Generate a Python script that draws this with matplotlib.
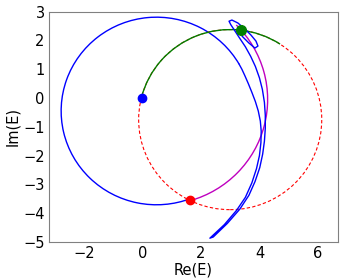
import matplotlib
matplotlib.use("Agg")
import matplotlib.pyplot as plt
from matplotlib.patches import Arc, Circle

# circles / arcs (centre x, centre y, radius)
blue_circle = (0.48, -0.45, 3.26)
blue_arc_angles = (30, 291)
red_circle = (3.0, -0.75, 3.13)
green_arc_angles = (57, 166)
magenta_circle = (0.62, -0.05, 3.66)
magenta_arc_angles = (-73.8, 45)

# rest of the blue trajectory: right side, spike, back up and the small loop
blue_x = [3.303, 3.40, 3.50, 3.62, 3.74, 3.86, 3.96, 4.03, 4.06, 4.05, 4.00, 3.90, 3.74, 3.52,
          3.22, 2.80, 2.305,
          2.42, 2.90, 3.33, 3.64, 3.85, 4.01, 4.11, 4.17, 4.20, 4.20, 4.17, 4.10, 4.00, 3.86,
          3.70, 3.52, 3.33, 3.15, 3.02, 2.96,
          3.058, 3.264, 3.503, 3.709, 3.880, 3.949, 3.846, 3.640, 3.435, 3.264]
blue_y = [1.18, 1.00, 0.78, 0.50, 0.20, -0.12, -0.45, -0.80, -1.15, -1.55, -2.00, -2.45, -2.95, -3.45,
          -3.90, -4.40, -4.871,
          -4.83, -4.36, -3.86, -3.38, -2.90, -2.42, -1.95, -1.50, -1.05, -0.60, -0.15, 0.30, 0.70, 1.10,
          1.45, 1.78, 2.07, 2.35, 2.55, 2.67,
          2.711, 2.607, 2.398, 2.190, 1.981, 1.807, 1.737, 1.911, 2.120, 2.329]

# marked points
start_pt = (0.0, 0.0)
red_pt = (1.64, -3.55)
green_pt = (3.37, 2.36)

fig = plt.figure(figsize=(3.49, 2.79), dpi=100)
ax = fig.add_axes([0.140, 0.133, 0.828, 0.825])

cx, cy, r = blue_circle
ax.add_patch(Arc((cx, cy), 2 * r, 2 * r, theta1=blue_arc_angles[0], theta2=blue_arc_angles[1],
                 color="b", lw=1.0))
ax.plot(blue_x, blue_y, color="b", lw=1.0)

cx, cy, r = magenta_circle
ax.add_patch(Arc((cx, cy), 2 * r, 2 * r, theta1=magenta_arc_angles[0], theta2=magenta_arc_angles[1],
                 color="m", lw=1.0))

cx, cy, r = red_circle
ax.add_patch(Circle((cx, cy), r, fill=False, edgecolor="r", lw=0.8, linestyle=(0, (3, 2))))
ax.add_patch(Arc((cx, cy), 2 * r, 2 * r, theta1=green_arc_angles[0], theta2=green_arc_angles[1],
                 color="g", lw=1.0))

ax.plot(*start_pt, "bo", ms=6)
ax.plot(*red_pt, "ro", ms=6)
ax.plot(*green_pt, "go", ms=7)

ax.set_xlim(-3.2, 6.68)
ax.set_ylim(-5, 3)
ax.set_xticks([-2, 0, 2, 4, 6])
ax.set_yticks(range(-5, 4))
ax.tick_params(length=0, labelsize=10.5, pad=3)
for s in ax.spines.values():
    s.set_color("gray")

ax.set_xlabel("Re(E)", fontsize=10.5, labelpad=1)
ax.set_ylabel("Im(E)", fontsize=10.5, labelpad=2)

fig.savefig("out.png", dpi=100)
